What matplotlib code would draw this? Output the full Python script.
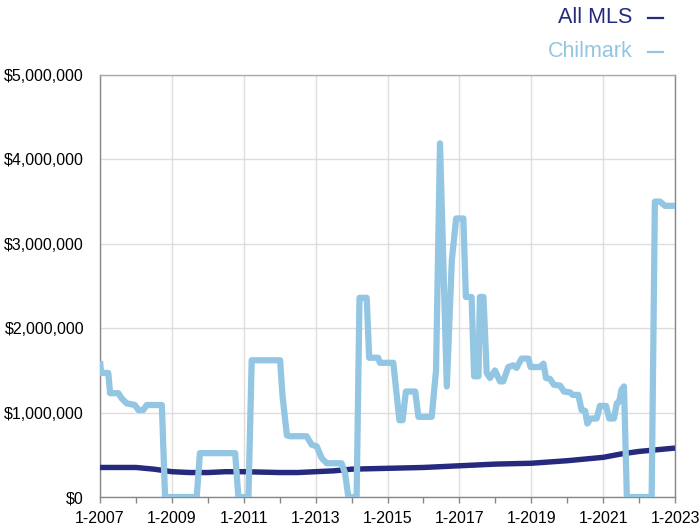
import matplotlib
matplotlib.use('Agg')
import matplotlib.pyplot as plt
from matplotlib.lines import Line2D
from matplotlib.ticker import FuncFormatter, MultipleLocator

plt.rcParams['font.family'] = ['Liberation Sans', 'DejaVu Sans']

# values (decimal year, dollars in millions)
mls_years = [2007.0, 2008.0, 2008.5, 2009.0, 2009.5, 2010.0, 2010.5, 2011.0,
             2012.0, 2012.5, 2013.0, 2013.5, 2014.0, 2015.0, 2016.0, 2017.0,
             2018.0, 2019.0, 2020.0, 2020.5, 2021.0, 2021.5, 2022.0, 2022.5,
             2023.0]
mls_vals = [0.35, 0.35, 0.33, 0.30, 0.29, 0.29, 0.30, 0.30,
            0.29, 0.29, 0.30, 0.31, 0.33, 0.34, 0.35, 0.37,
            0.39, 0.40, 0.43, 0.45, 0.47, 0.51, 0.54, 0.56,
            0.58]

chil_years = [2007.00, 2007.03, 2007.23, 2007.28, 2007.51, 2007.60, 2007.74,
              2007.97, 2008.07, 2008.20, 2008.30, 2008.72, 2008.81, 2009.69,
              2009.78, 2010.76, 2010.85, 2011.13, 2011.22, 2012.01, 2012.08,
              2012.20, 2012.29, 2012.75, 2012.89, 2013.03, 2013.17, 2013.31,
              2013.72, 2013.82, 2013.91, 2014.14, 2014.22, 2014.42, 2014.49,
              2014.74, 2014.79, 2015.16, 2015.33, 2015.42, 2015.51, 2015.77,
              2015.86, 2016.23, 2016.35, 2016.46, 2016.65, 2016.79, 2016.91,
              2017.11, 2017.18, 2017.34, 2017.41, 2017.53, 2017.57, 2017.67,
              2017.76, 2017.85, 2017.99, 2018.13, 2018.22, 2018.36, 2018.50,
              2018.59, 2018.73, 2018.92, 2018.98, 2019.24, 2019.34, 2019.41,
              2019.52, 2019.63, 2019.80, 2019.91, 2020.08, 2020.15, 2020.31,
              2020.40, 2020.50, 2020.56, 2020.65, 2020.82, 2020.91, 2021.08,
              2021.17, 2021.30, 2021.38, 2021.45, 2021.51, 2021.58, 2021.66,
              2022.35, 2022.44, 2022.58, 2022.72, 2023.00]
chil_vals = [1.61, 1.47, 1.47, 1.23, 1.23, 1.17, 1.11,
             1.09, 1.03, 1.03, 1.09, 1.09, 0.00, 0.00,
             0.52, 0.52, 0.00, 0.00, 1.62, 1.62, 1.19,
             0.73, 0.72, 0.72, 0.62, 0.60, 0.46, 0.40,
             0.40, 0.28, 0.00, 0.00, 2.36, 2.36, 1.65,
             1.65, 1.59, 1.59, 0.91, 0.91, 1.25, 1.25,
             0.95, 0.95, 1.50, 4.19, 1.31, 2.81, 3.30,
             3.30, 2.37, 2.37, 1.43, 1.43, 2.37, 2.37,
             1.47, 1.41, 1.50, 1.37, 1.37, 1.54, 1.56,
             1.53, 1.64, 1.64, 1.54, 1.54, 1.58, 1.41,
             1.40, 1.33, 1.32, 1.25, 1.24, 1.21, 1.21,
             1.03, 1.02, 0.87, 0.93, 0.93, 1.08, 1.08,
             0.93, 0.93, 1.11, 1.13, 1.27, 1.31, 0.00,
             0.00, 3.50, 3.50, 3.45, 3.45]

NAVY = '#252A7E'
LIGHT = '#93C6E2'

fig = plt.figure(figsize=(7.0, 5.27), dpi=100)
ax = fig.add_axes([0.1429, 0.0569, 0.8214, 0.8008])

ax.plot(mls_years, [v * 1e6 for v in mls_vals], color=NAVY, lw=3.9,
        solid_joinstyle='round', solid_capstyle='butt', zorder=3)
ax.plot(chil_years, [v * 1e6 for v in chil_vals], color=LIGHT, lw=4.5,
        solid_joinstyle='round', solid_capstyle='butt', zorder=4)

ax.set_xlim(2007, 2023)
ax.set_ylim(0, 5e6)
ax.set_xticks(range(2007, 2024, 2))
ax.set_xticklabels([f'1-{y}' for y in range(2007, 2024, 2)])
ax.xaxis.set_minor_locator(MultipleLocator(1))
ax.yaxis.set_major_locator(MultipleLocator(1e6))
ax.yaxis.set_major_formatter(FuncFormatter(lambda v, p: f'${v:,.0f}'))

ax.tick_params(axis='x', which='both', direction='out', length=4, width=1,
               color='#888888', labelsize=11.5, pad=6)
ax.tick_params(axis='y', length=0, labelsize=11.5, pad=11.5)

ax.grid(axis='y', color='#DDDDDD', lw=1.0)
ax.grid(axis='x', which='major', color='#DDDDDD', lw=1.0)
ax.set_axisbelow(True)
for side in ['left', 'bottom', 'right']:
    ax.spines[side].set_color('#888888')
    ax.spines[side].set_linewidth(1.0)
ax.spines['top'].set_color('#AAAAAA')
ax.spines['top'].set_linewidth(1.0)

# legend: label text followed by a short dash, top right
fig.text(0.904, 0.966, 'All MLS', color=NAVY, fontsize=15.5,
         ha='right', va='center')
fig.text(0.904, 0.902, 'Chilmark', color=LIGHT, fontsize=15.5,
         ha='right', va='center')
fig.add_artist(Line2D([0.926, 0.947], [0.966, 0.966], color=NAVY, lw=1.6))
fig.add_artist(Line2D([0.926, 0.947], [0.902, 0.902], color=LIGHT, lw=1.6))

fig.savefig('out.png', dpi=100)
